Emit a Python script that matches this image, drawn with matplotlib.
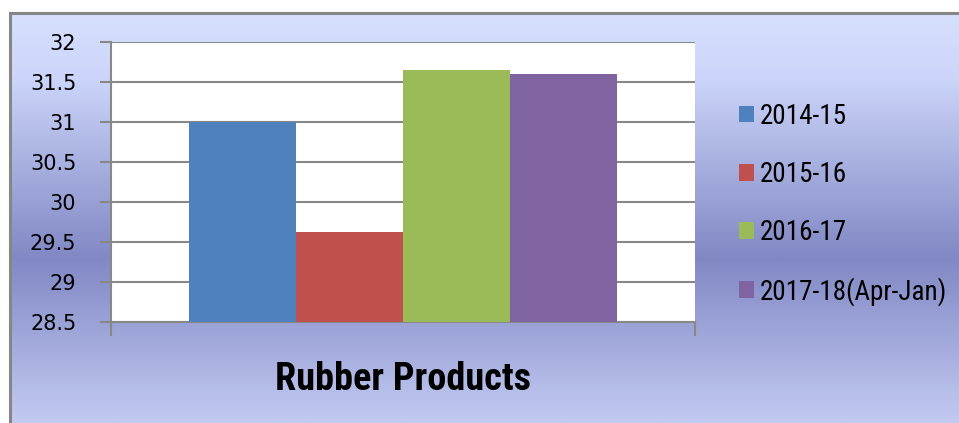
import numpy as np
import matplotlib.pyplot as plt
from matplotlib.colors import LinearSegmentedColormap
from matplotlib.patches import Rectangle

plt.rcParams['font.family'] = ['Roboto Condensed', 'DejaVu Sans']

# Data
category = "Rubber Products"
years = ["2014-15", "2015-16", "2016-17", "2017-18(Apr-Jan)"]
values = [31.0, 29.63, 31.65, 31.6]
colors = ["#4f81bd", "#c0504d", "#9bbb59", "#8064a2"]
yticks = [28.5, 29, 29.5, 30, 30.5, 31, 31.5, 32]

W, H = 959, 423
fig = plt.figure(figsize=(W / 100, H / 100), dpi=100)
fig.patch.set_facecolor("white")

# Gradient chart background inside the gray frame
x0 = 10 / W
bg = fig.add_axes([x0, 0, 1 - x0, 1 - 13 / H], zorder=0)
grad_cmap = LinearSegmentedColormap.from_list(
    "bg", [(0.0, "#d6e0fe"), (0.15, "#cdd6fa"), (0.6, "#8188c4"), (1.0, "#c2caf2")]
)
grad = np.linspace(0, 1, 400).reshape(-1, 1)
bg.imshow(grad, aspect="auto", cmap=grad_cmap, extent=[0, 1, 1, 0])
bg.set_xlim(0, 1)
bg.set_ylim(1, 0)
bg.axis("off")
fig.add_artist(Rectangle((x0, -0.01), 1.02 - x0, 1 - 13 / H + 0.01, transform=fig.transFigure,
                         fill=False, edgecolor="#868686", linewidth=2.2, zorder=1))

# Plot area
ax = fig.add_axes([111 / W, 1 - 322 / H, (695 - 111) / W, (322 - 42) / H], zorder=2)
ax.set_facecolor("white")

width = 107 / 584
n = len(values)
offsets = (np.arange(n) - (n - 1) / 2) * width
for off, v, c, lab in zip(offsets, values, colors, years):
    ax.bar(off, v - 28.5, width=width, bottom=28.5, color=c, label=lab, zorder=3)

ax.set_xlim(-0.5, 0.5)
ax.set_ylim(28.5, 32)
ax.set_yticks(yticks)
ax.set_yticklabels([f"{t:g}" for t in yticks], fontsize=15, family="DejaVu Sans")
ax.yaxis.grid(True, color="#888888", linewidth=1.5)
ax.set_axisbelow(True)

ax.set_xticks([-0.5, 0.5])
ax.set_xticklabels(["", ""])
ax.tick_params(axis="x", length=10, width=1.5, color="#888888", direction="out")
ax.tick_params(axis="y", length=8, width=1.5, color="#888888", pad=17)

for side in ["top", "right"]:
    ax.spines[side].set_visible(False)
for side in ["left", "bottom"]:
    ax.spines[side].set_color("#888888")
    ax.spines[side].set_linewidth(1.5)

fig.text(403 / W, 1 - 379 / H, category, ha="center", va="center",
         fontsize=27.5, fontweight="bold")

leg = fig.legend(loc="upper left", bbox_to_anchor=(725 / W, 1 - 89 / H),
                 frameon=False, fontsize=19.5, handlelength=0.58, handleheight=0.58,
                 handletextpad=0.22, labelspacing=1.15, borderpad=0)

fig.savefig("out.png", dpi=100)
